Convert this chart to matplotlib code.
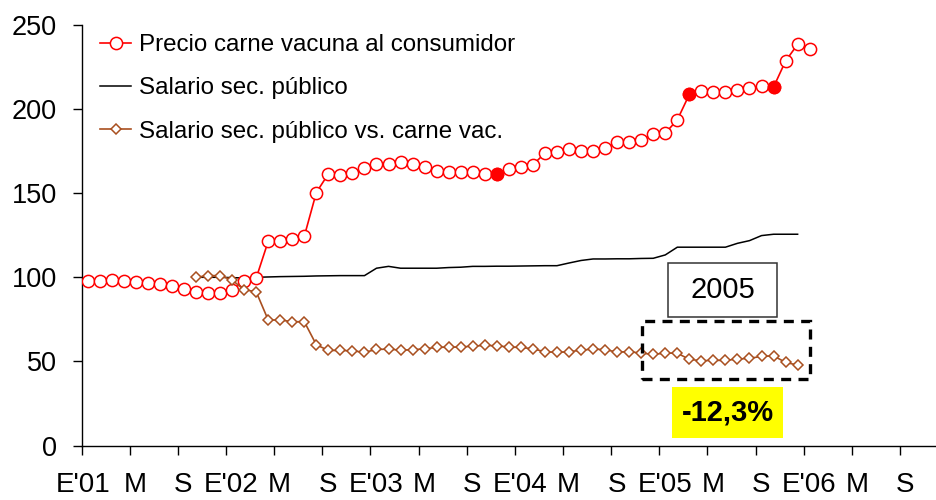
import matplotlib

matplotlib.use("Agg")
import matplotlib.pyplot as plt
from matplotlib.patches import Rectangle

plt.rcParams["font.family"] = ["Liberation Sans", "DejaVu Sans"]

# monthly series, index 0 = Jan 2001
precio_carne = [
    98.0, 98.0, 98.4, 98.0, 97.4, 96.4, 95.8, 94.6, 93.0, 91.4, 90.5, 90.7,
    92.3, 98.0, 99.5, 121.4, 121.4, 122.8, 124.4, 150.4, 161.5, 160.9, 162.1, 164.7,
    167.4, 167.4, 168.8, 167.4, 165.8, 163.1, 162.9, 162.9, 162.5, 161.5, 161.5, 164.5,
    165.5, 166.9, 173.8, 174.4, 176.0, 174.8, 174.8, 176.8, 180.4, 180.7, 181.9, 185.3,
    185.7, 193.6, 208.7, 210.7, 210.1, 210.1, 211.1, 212.5, 213.7, 213.1, 228.6, 238.5,
    235.5,
]
precio_destacado = [34, 50, 57]

# both salary series start in Oct 2001 (index 9)
salario_inicio = 9
salario_publico = [
    100.0, 100.0, 100.0, 99.8, 99.6, 100.0, 100.2, 100.4, 100.5, 100.6, 100.8, 100.9,
    101.0, 101.0, 101.0, 105.4, 106.5, 105.4, 105.4, 105.4, 105.4, 105.8, 106.0, 106.5,
    106.5, 106.6, 106.6, 106.7, 106.8, 106.9, 106.9, 108.5, 110.0, 110.9, 110.9, 111.0,
    111.0, 111.2, 111.3, 113.3, 117.9, 117.9, 117.9, 117.9, 117.9, 120.2, 121.8, 124.8,
    125.6, 125.6, 125.6,
]
salario_vs_carne = [
    100.0, 101.0, 101.0, 98.4, 92.6, 91.4, 74.6, 74.6, 73.6, 73.6, 59.9, 56.5,
    56.5, 56.3, 55.4, 57.1, 57.3, 56.7, 56.9, 57.5, 58.3, 58.5, 58.5, 59.1,
    59.5, 59.3, 58.5, 58.3, 57.5, 55.7, 55.4, 55.7, 56.7, 57.3, 57.0, 55.5,
    55.8, 54.9, 54.2, 54.9, 54.9, 51.2, 50.4, 50.6, 50.6, 51.4, 51.8, 53.0,
    53.3, 49.4, 47.8,
]

x_labels = ["E'01", "M", "S", "E'02", "M", "S", "E'03", "M", "S",
            "E'04", "M", "S", "E'05", "M", "S", "E'06", "M", "S"]
y_ticks = [0, 50, 100, 150, 200, 250]

RED = "#FF0000"
BROWN = "#A94F1F"

fig = plt.figure(figsize=(9.36, 5), dpi=100)
W, H = 936, 500
ax = fig.add_axes([81.7 / W, (H - 445.5) / H, (W - 81.7) / W, (445.5 - 25) / H])

# points sit in the middle of each month
xp = [i + 0.5 for i in range(len(precio_carne))]
xs = [salario_inicio + i + 0.5 for i in range(len(salario_publico))]

ax.plot(xp, precio_carne, color=RED, lw=1.2, marker="o", ms=8.8,
        mfc="white", mec=RED, mew=1.1, label="Precio carne vacuna al consumidor", zorder=3)
ax.plot([xp[i] for i in precio_destacado], [precio_carne[i] for i in precio_destacado],
        ls="none", marker="o", ms=8.8, mfc=RED, mec=RED, zorder=4)
ax.plot(xs, salario_publico, color="black", lw=1.1, label="Salario sec. público", zorder=2)
ax.plot(xs, salario_vs_carne, color=BROWN, lw=1.2, marker="D", ms=4.6,
        mfc="white", mec=BROWN, mew=1.1, label="Salario sec. público vs. carne vac.", zorder=3)

ax.set_xlim(0, 71)
ax.set_ylim(0, 250)
# tick marks every 4 months, labels drawn a little to the right of them
tick_pos = list(range(0, 4 * len(x_labels), 4))
ax.set_xticks(tick_pos)
ax.set_xticklabels([])
ax.set_xticks([0.1] + [p + 0.45 for p in tick_pos[1:]], minor=True)
ax.set_xticklabels(x_labels, minor=True)
ax.set_yticks(y_ticks)
ax.tick_params(axis="y", direction="out", length=6.5, width=1, pad=11.5, labelsize=19.5)
ax.tick_params(axis="x", which="major", direction="out", length=6.5, width=1)
ax.tick_params(axis="x", which="minor", length=0, pad=19, labelsize=20)
for side in ("top", "right"):
    ax.spines[side].set_visible(False)
for side in ("left", "bottom"):
    ax.spines[side].set_linewidth(1)

# annotations for 2005
ax.add_patch(Rectangle((46.6, 39.5), 13.9, 34.3, fill=False, ec="black",
                       lw=2.4, ls=(0, (3, 2.2)), zorder=5, clip_on=False))
ax.add_patch(Rectangle((48.7, 76.6), 9.1, 32.1, fc="white", ec="#333333", lw=1.1, zorder=5))
ax.text(53.25, 92.6, "2005", fontsize=21, ha="center", va="center", zorder=6)
ax.add_patch(Rectangle((49.1, 4.3), 9.2, 30.7, fc="#FFFF00", ec="none", zorder=5))
ax.text(53.7, 19.6, "-12,3%", fontsize=21, fontweight="bold", ha="center", va="center",
        zorder=6)

ax.legend(loc="upper left", bbox_to_anchor=(100 / W, 1 - 34 / H),
          bbox_transform=fig.transFigure, frameon=False, fontsize=17.4,
          handlelength=1.3, handletextpad=0.3, labelspacing=0.88,
          borderpad=0, borderaxespad=0)

fig.savefig("out.png", dpi=100)
